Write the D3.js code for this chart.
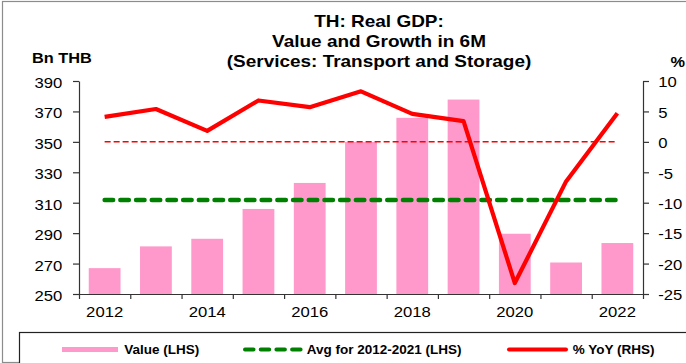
<!DOCTYPE html>
<html>
<head>
<meta charset="utf-8">
<script src="https://cdn.jsdelivr.net/npm/d3@7/dist/d3.min.js"></script>
<style>
  html, body { margin: 0; padding: 0; background: #fff; }
  svg { display: block; font-family: "Liberation Sans", Arial, sans-serif; }
  .axis text { font-size: 14.5px; fill: #000; }
  .axis path, .axis line { stroke: #333; stroke-width: 1.2; }
</style>
</head>
<body>
<svg id="chart" width="686" height="363"></svg>
<script>
// Real GDP, services: transport and storage (first six months of each year)
const years = ["2012","2013","2014","2015","2016","2017","2018","2019","2020","2021","2022"];
const values = [267, 281.3, 286.3, 305.9, 323, 350, 365.8, 377.8, 289.6, 270.7, 283.5]; // Bn THB
const yoy = [4.1, 5.4, 1.8, 6.8, 5.7, 8.3, 4.6, 3.4, -23.2, -6.5, 4.7];                 // % YoY
const avgYears = years.slice(0, 10);                                                     // 2012-2021
const leftTicks = [250, 270, 290, 310, 330, 350, 370, 390];
const rightTicks = [-25, -20, -15, -10, -5, 0, 5, 10];
const xLabels = ["2012","2014","2016","2018","2020","2022"];
const titleLines = ["TH: Real GDP:", "Value and Growth in 6M", "(Services: Transport and Storage)"];
const legendItems = ["Value (LHS)", "Avg for 2012-2021 (LHS)", "% YoY (RHS)"];

const avgValue = d3.mean(avgYears, y => values[years.indexOf(y)]);

const svg = d3.select("#chart");
const plot = { left: 79, right: 643, top: 81, bottom: 294 };

const PINK = "#ff99cc", RED = "#ff0000", GREEN = "#008000";
const STRETCH = 1.15; // the chart's lettering is set slightly wide

// outer frame
svg.append("rect")
  .attr("x", 2.5).attr("y", 1.5).attr("width", 700).attr("height", 361)
  .attr("fill", "none").attr("stroke", "#8c8c8c").attr("stroke-width", 1.2);

// scales
const x = d3.scaleBand().domain(years).range([plot.left, plot.right])
  .paddingInner(0.38).paddingOuter(0.19);
const xEdge = d3.scaleLinear().domain([0, years.length]).range([plot.left, plot.right]);
const yL = d3.scaleLinear().domain([250, 390]).range([plot.bottom, plot.top]);
const yR = d3.scaleLinear().domain([-25, 10]).range([plot.bottom, plot.top]);
const cx = d => x(d) + x.bandwidth() / 2;

// bars
svg.append("g").selectAll("rect").data(years).join("rect")
  .attr("x", d => x(d))
  .attr("width", x.bandwidth())
  .attr("y", (d, i) => yL(values[i]))
  .attr("height", (d, i) => yL(250) - yL(values[i]))
  .attr("fill", PINK);

// zero line of the growth axis
svg.append("line")
  .attr("x1", cx(years[0])).attr("x2", cx(years[years.length - 1]))
  .attr("y1", yR(0)).attr("y2", yR(0))
  .attr("stroke", RED).attr("stroke-width", 1.5).attr("stroke-dasharray", "6,3");

// average level line
svg.append("line")
  .attr("x1", cx(years[0])).attr("x2", cx(years[years.length - 1]))
  .attr("y1", yL(avgValue)).attr("y2", yL(avgValue))
  .attr("stroke", GREEN).attr("stroke-width", 4.5)
  .attr("stroke-linecap", "round").attr("stroke-dasharray", "8.5,7.2");

// growth line
const line = d3.line().x((d, i) => cx(years[i])).y(d => yR(d));
svg.append("path").datum(yoy)
  .attr("d", line)
  .attr("fill", "none").attr("stroke", RED).attr("stroke-width", 4.2)
  .attr("stroke-linejoin", "round");

// widen tick labels horizontally about the axis origin
const widen = g => g.selectAll(".tick text").attr("transform", `scale(${STRETCH},1)`);
const plain = d => String(d); // hyphen-minus for negatives

// left axis
svg.append("g").attr("class", "axis")
  .attr("transform", `translate(${plot.left},0)`)
  .call(d3.axisLeft(yL).tickValues(leftTicks).tickFormat(plain).tickSize(6).tickSizeOuter(0).tickPadding(8.5))
  .call(g => g.selectAll("text").attr("dy", "0.45em"))
  .call(widen);

// right axis
svg.append("g").attr("class", "axis")
  .attr("transform", `translate(${plot.right},0)`)
  .call(d3.axisRight(yR).tickValues(rightTicks).tickFormat(plain).tickSize(6).tickSizeOuter(0).tickPadding(7.3))
  .call(g => g.selectAll("text").attr("dy", "0.4em"))
  .call(widen);

// x axis: boundary ticks
svg.append("g").attr("class", "axis")
  .attr("transform", `translate(0,${plot.bottom})`)
  .call(d3.axisBottom(xEdge).tickValues(d3.range(years.length + 1)).tickFormat("").tickSize(5).tickSizeOuter(0));

// x axis: year labels at category centres
svg.append("g").attr("class", "axis")
  .attr("transform", `translate(0,${plot.bottom})`)
  .call(d3.axisBottom(x).tickValues(xLabels).tickSize(0).tickPadding(13))
  .call(g => g.select(".domain").remove())
  .call(widen);

// title
svg.append("g").selectAll("text").data(titleLines).join("text")
  .attr("transform", (d, i) => `translate(379,${26.7 + i * 20}) scale(${STRETCH},1)`)
  .attr("text-anchor", "middle")
  .style("font-size", "16.5px").style("font-weight", "bold")
  .text(d => d);

// axis units
svg.append("text")
  .attr("transform", `translate(32,63.3) scale(${STRETCH},1)`)
  .style("font-size", "14.2px").style("font-weight", "bold").text("Bn THB");
svg.append("text")
  .attr("transform", `translate(670.5,66.7) scale(${STRETCH},1)`)
  .style("font-size", "14.2px").style("font-weight", "bold").text("%");

// legend
const lg = svg.append("g");
lg.append("rect")
  .attr("x", 19.5).attr("y", 332.5).attr("width", 700).attr("height", 40)
  .attr("fill", "#fff").attr("stroke", "#222").attr("stroke-width", 1.2);
const ly = 349.5;
lg.append("rect").attr("x", 62).attr("y", ly - 2.5).attr("width", 56).attr("height", 5).attr("fill", PINK);
lg.append("line").attr("x1", 245).attr("x2", 302).attr("y1", ly).attr("y2", ly)
  .attr("stroke", GREEN).attr("stroke-width", 4).attr("stroke-linecap", "round")
  .attr("stroke-dasharray", "8.5,7.2");
lg.append("line").attr("x1", 509).attr("x2", 566).attr("y1", ly).attr("y2", ly)
  .attr("stroke", RED).attr("stroke-width", 4).attr("stroke-linecap", "round");
const legendX = [124.3, 306.7, 572.7];
lg.selectAll("text.lbl").data(legendItems).join("text").attr("class", "lbl")
  .attr("x", (d, i) => legendX[i]).attr("y", ly + 4.5)
  .style("font-size", "13.5px").style("font-weight", "bold")
  .text(d => d);
</script>
</body>
</html>
